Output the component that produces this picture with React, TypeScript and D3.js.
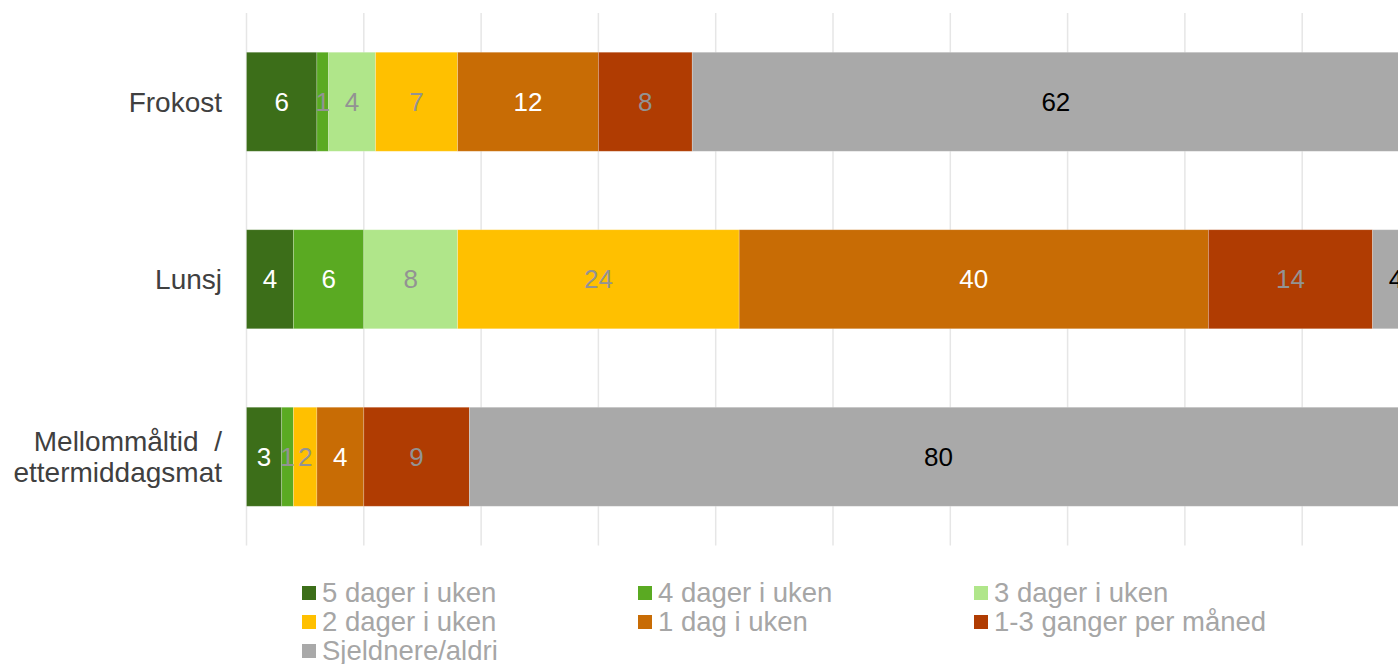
import React from "react";
import * as d3 from "d3";

const categories = ["Frokost", "Lunsj", "Mellommåltid  /|ettermiddagsmat"];
const seriesNames = [
  "5 dager i uken",
  "4 dager i uken",
  "3 dager i uken",
  "2 dager i uken",
  "1 dag i uken",
  "1-3 ganger per måned",
  "Sjeldnere/aldri",
];
const frokostValues = [6, 1, 4, 7, 12, 8, 62];
const lunsjValues = [4, 6, 8, 24, 40, 14, 4];
const mellomValues = [3, 1, 0, 2, 4, 9, 80];
const xTicks = [0, 10, 20, 30, 40, 50, 60, 70, 80, 90, 100];

// styling
const colors = ["#3c6e19", "#5aaa22", "#b0e68a", "#ffc000", "#c86c05", "#b03c02", "#a9a9a9"];
const WHITE = "#ffffff";
const GREY = "#939393";
const BLACK = "#000000";
const labelColors = [
  [WHITE, GREY, GREY, GREY, WHITE, GREY, BLACK],
  [WHITE, WHITE, GREY, GREY, WHITE, GREY, BLACK],
  [WHITE, GREY, GREY, GREY, WHITE, GREY, BLACK],
];

const W = 1398;
const H = 664;
const FONT = "'Liberation Sans', Arial, sans-serif";

export default function App() {
  const rows = [frokostValues, lunsjValues, mellomValues].map((vals, i) => {
    const row: any = { cat: categories[i] };
    seriesNames.forEach((s, j) => (row[s] = vals[j]));
    return row;
  });
  const stacked = d3.stack().keys(seriesNames)(rows);

  const x = d3.scaleLinear().domain([0, 100]).range([246.5, 246.5 + 1173]);
  const y = d3
    .scaleBand()
    .domain(categories)
    .range([13, 545.5])
    .paddingInner(0.442)
    .paddingOuter(0.221);

  const legendCols = [302, 638, 974];
  const legendRows = [586, 615, 644];

  return (
    <svg
      width={W}
      height={H}
      style={{ position: "absolute", left: 0, top: 0, background: "#fff" }}
      fontFamily={FONT}
    >
      {/* grid */}
      {xTicks.map((t) => (
        <line
          key={t}
          x1={x(t)}
          x2={x(t)}
          y1={13}
          y2={545.5}
          stroke="#e6e6e6"
          strokeWidth={1.5}
        />
      ))}

      {/* bars */}
      {stacked.map((layer, j) => (
        <g key={layer.key} fill={colors[j]}>
          {layer.map((d: any, i) => {
            const w = x(d[1]) - x(d[0]);
            if (w <= 0) return null;
            return (
              <rect
                key={i}
                x={x(d[0])}
                y={y(d.data.cat)}
                width={w}
                height={y.bandwidth()}
                stroke="#ffffff"
                strokeOpacity={0.3}
                strokeWidth={0.75}
              />
            );
          })}
        </g>
      ))}

      {/* bar labels */}
      {stacked.map((layer, j) => (
        <g key={layer.key + "-lbl"} fontSize={26} textAnchor="middle">
          {layer.map((d: any, i) => {
            const v = d[1] - d[0];
            if (v <= 0) return null;
            return (
              <text
                key={i}
                x={(x(d[0]) + x(d[1])) / 2}
                y={(y(d.data.cat) as number) + y.bandwidth() / 2}
                dy="0.35em"
                fill={labelColors[i][j]}
              >
                {v}
              </text>
            );
          })}
        </g>
      ))}

      {/* category labels */}
      {categories.map((c) => {
        const lines = c.split("|");
        const cy = (y(c) as number) + y.bandwidth() / 2;
        const lh = 31;
        return (
          <text key={c} x={222} fontSize={28} fill="#404040" textAnchor="end">
            {lines.map((l, k) => (
              <tspan
                key={k}
                x={222}
                y={cy + (k - (lines.length - 1) / 2) * lh}
                dy="0.35em"
                style={{ whiteSpace: "pre" }}
              >
                {l}
              </tspan>
            ))}
          </text>
        );
      })}

      {/* legend */}
      {seriesNames.map((s, j) => {
        const lx = legendCols[j % 3];
        const ly = legendRows[Math.floor(j / 3)];
        return (
          <g key={s}>
            <rect x={lx} y={ly} width={14} height={14} fill={colors[j]} />
            <text x={lx + 20} y={ly + 15.5} fontSize={27.5} fill="#a6a6a6">
              {s}
            </text>
          </g>
        );
      })}
    </svg>
  );
}
